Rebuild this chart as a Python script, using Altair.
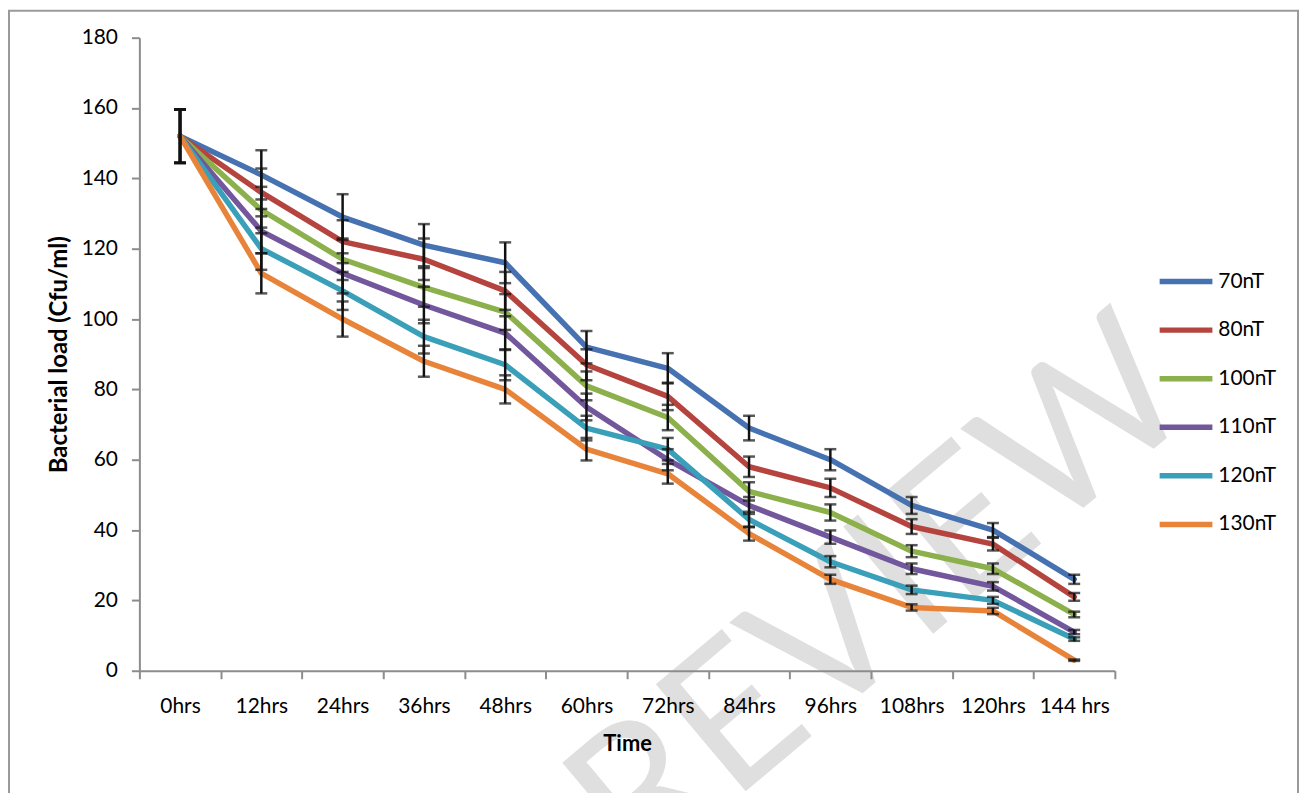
import altair as alt
import pandas as pd

# ---------------- data ----------------
times = ["0hrs", "12hrs", "24hrs", "36hrs", "48hrs", "60hrs", "72hrs",
         "84hrs", "96hrs", "108hrs", "120hrs", "144 hrs"]
series = ["70nT", "80nT", "100nT", "110nT", "120nT", "130nT"]
colors = ["#4672B2", "#B5443F", "#8CB04B", "#72579C", "#3A9FB8", "#E8843A"]

v70 = [152, 141, 129, 121, 116, 92, 86, 69, 60, 47, 40, 26]
v80 = [152, 136, 122, 117, 108, 87, 78, 58, 52, 41, 36, 21]
v100 = [152, 131, 117, 109, 102, 81, 72, 51, 45, 34, 29, 16]
v110 = [152, 125, 113, 104, 96, 75, 60, 47, 38, 29, 24, 11]
v120 = [152, 120, 108, 95, 87, 69, 63, 43, 31, 23, 20, 9]
v130 = [152, 113, 100, 88, 80, 63, 56, 39, 26, 18, 17, 3]

e70 = [7.6, 7.0, 6.5, 6.0, 5.8, 4.6, 4.3, 3.5, 3.0, 2.4, 2.0, 1.3]
e80 = [7.6, 6.8, 6.1, 5.9, 5.4, 4.4, 3.9, 2.9, 2.6, 2.1, 1.8, 1.1]
e100 = [7.6, 6.6, 5.9, 5.5, 5.1, 4.1, 3.6, 2.6, 2.3, 1.7, 1.5, 0.8]
e110 = [7.6, 6.3, 5.7, 5.2, 4.8, 3.8, 3.0, 2.4, 1.9, 1.5, 1.2, 0.6]
e120 = [7.6, 6.0, 5.4, 4.8, 4.4, 3.5, 3.2, 2.2, 1.6, 1.2, 1.0, 0.5]
e130 = [7.6, 5.7, 5.0, 4.4, 4.0, 3.2, 2.8, 2.0, 1.3, 0.9, 0.9, 0.2]

y_ticks = [0, 20, 40, 60, 80, 100, 120, 140, 160, 180]
watermark_text = ["PEER REVIEW"]

rows = []
for name, vals, errs in zip(series, [v70, v80, v100, v110, v120, v130],
                            [e70, e80, e100, e110, e120, e130]):
    for t, v, e in zip(times, vals, errs):
        rows.append({"time": t, "series": name, "value": v,
                     "lo": v - e, "hi": v + e})
df = pd.DataFrame(rows)

FONT = "Lato"
YTITLE = "Bacterial load (Cfu/ml)"

x_enc = alt.X(
    "time:N", sort=times,
    scale=alt.Scale(type="band", paddingInner=0, paddingOuter=0),
    bandPosition=0.5,
    axis=alt.Axis(title="Time", labelAngle=0, tickBand="extent",
                  labelPadding=17, titlePadding=17, titleFontSize=22, zindex=1),
)


def y_enc(field):
    return alt.Y(
        field, type="quantitative",
        scale=alt.Scale(domain=[0, 180], nice=False, zero=True),
        axis=alt.Axis(values=y_ticks, grid=False, title=YTITLE,
                      labelPadding=14, titlePadding=10, titleFontSize=24, zindex=1),
    )


base = alt.Chart(df)

lines = base.mark_line(strokeWidth=5.5, strokeCap="round", strokeJoin="round").encode(
    x=x_enc,
    y=y_enc("value"),
    color=alt.Color(
        "series:N", sort=series,
        scale=alt.Scale(domain=series, range=colors),
        title=None,
        legend=alt.Legend(
            orient="none", legendX=1038.5, legendY=232, padding=0,
            symbolType="M-2.65,0L2.65,0", symbolSize=400,
            symbolStrokeWidth=5.5, labelOffset=19.5, rowPadding=24.8,
            labelFont=FONT, labelFontSize=21, labelColor="#000000",
        ),
    ),
)

rules = base.mark_rule(color="#111111", strokeWidth=2.5).encode(
    x=x_enc, y=y_enc("lo"), y2="hi:Q"
)
cap_lo = base.mark_tick(color="#111111", thickness=2.5, size=12).encode(
    x=x_enc, y=y_enc("lo")
)
cap_hi = base.mark_tick(color="#111111", thickness=2.5, size=12).encode(
    x=x_enc, y=y_enc("hi")
)

wm = alt.Chart(pd.DataFrame({"t": watermark_text})).mark_text(
    font=FONT, fontSize=196, fontWeight="normal", angle=320, align="right",
    baseline="alphabetic", color="#dfdfdf",
).encode(x=alt.value(1068), y=alt.value(372), text="t:N")

frame = alt.Chart(pd.DataFrame({"a": [0]})).mark_rect(
    fillOpacity=0, stroke="#9a9a9a", strokeWidth=2
).encode(x=alt.value(-131), x2=alt.value(1164), y=alt.value(-27), y2=alt.value(820))

chart = alt.layer(wm, frame, lines, rules, cap_lo, cap_hi).properties(
    width=980, height=636,
    autosize=alt.AutoSizeParams(type="none"),
    padding={"left": 132, "top": 28, "right": 185, "bottom": 121},
).configure_axis(
    labelFont=FONT, labelFontSize=21, labelColor="#000000",
    titleFont=FONT, titleFontWeight="bold", titleColor="#000000",
    domainColor="#8c8c8c", domainWidth=2, tickColor="#8c8c8c", tickWidth=2, tickSize=8,
).configure_view(strokeWidth=0)

chart.save("out.html", embed_options={"renderer": "svg", "actions": False})
